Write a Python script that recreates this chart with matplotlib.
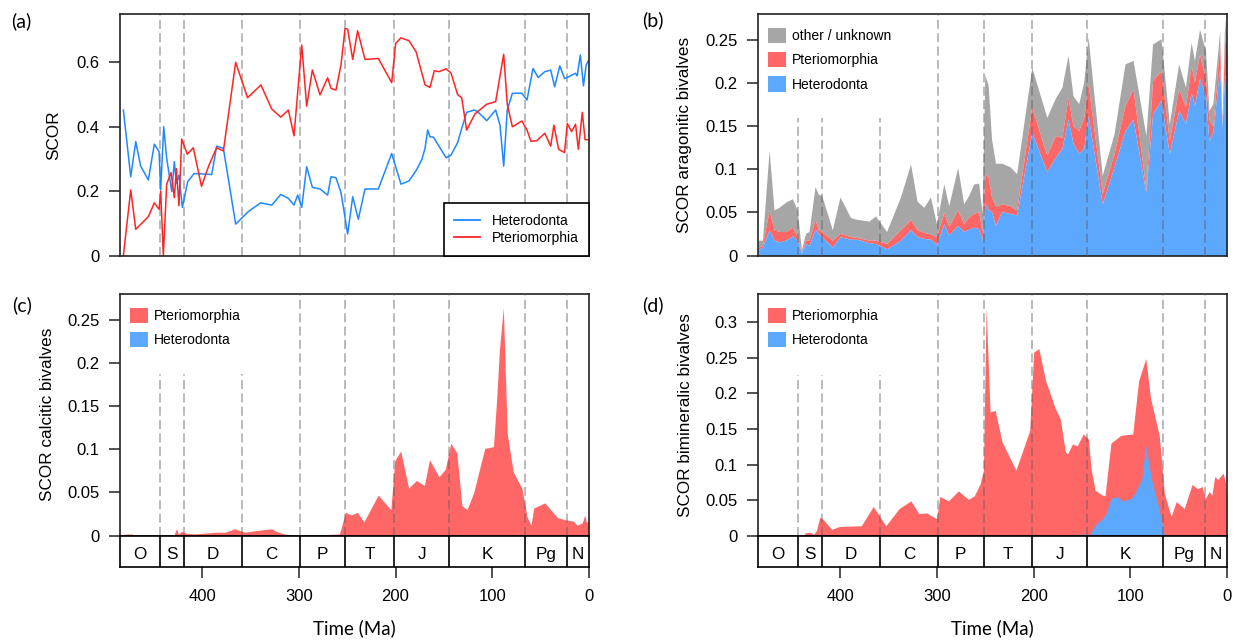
import numpy as np
import matplotlib
matplotlib.use("Agg")
import matplotlib.pyplot as plt
from matplotlib.patches import Patch
from matplotlib.lines import Line2D

plt.rcParams['font.family'] = ['Liberation Sans', 'DejaVu Sans']

# ---------------- data ----------------
period_bounds = [485.4, 443.8, 419.2, 358.9, 298.9, 251.9, 201.3, 145.0, 66.0, 23.03, 0.0]
period_labels = ['O', 'S', 'D', 'C', 'P', 'T', 'J', 'K', 'Pg', 'N']
xticks_ma = [400, 300, 200, 100, 0]

# (a) SCOR, columns: time (Ma), value
scor_het = np.array([
    [481.4, 0.452], [473.8, 0.245], [468.6, 0.354], [463.5, 0.278], [455.6, 0.235],
    [449.4, 0.346], [444.5, 0.323], [442.8, 0.204], [439.7, 0.400], [436.6, 0.302],
    [431.4, 0.199], [428.7, 0.292], [426.6, 0.224], [423.9, 0.250], [420.4, 0.150],
    [414.9, 0.230], [408.3, 0.255], [390.1, 0.252], [384.9, 0.340], [378.0, 0.333],
    [365.3, 0.098], [352.2, 0.137], [339.4, 0.164], [328.0, 0.157], [318.7, 0.190],
    [310.8, 0.178], [305.0, 0.157], [301.2, 0.188], [297.0, 0.150], [291.9, 0.276],
    [286.0, 0.212], [278.1, 0.207], [270.2, 0.188], [266.7, 0.245], [261.6, 0.242],
    [256.4, 0.196], [249.5, 0.067], [244.3, 0.183], [238.5, 0.113], [231.6, 0.207],
    [217.8, 0.207], [204.0, 0.317], [194.4, 0.222], [186.1, 0.232], [178.8, 0.264],
    [173.0, 0.297], [169.5, 0.333], [166.8, 0.390], [164.4, 0.369], [160.9, 0.368],
    [147.8, 0.304], [142.7, 0.312], [135.8, 0.351], [131.6, 0.395], [126.5, 0.445],
    [118.5, 0.452], [115.1, 0.447], [105.8, 0.419], [96.5, 0.452], [92.0, 0.405],
    [88.2, 0.278], [84.5, 0.452], [79.2, 0.504], [69.4, 0.504], [64.1, 0.483],
    [57.9, 0.581], [52.6, 0.553], [45.7, 0.571], [39.6, 0.576], [35.5, 0.524],
    [30.2, 0.589], [25.3, 0.550], [21.2, 0.555], [13.9, 0.566], [12.2, 0.558],
    [9.0, 0.623], [5.7, 0.527], [2.9, 0.592], [0.8, 0.604]])

scor_pter = np.array([
    [481.4, 0.000], [473.8, 0.204], [468.6, 0.082], [455.6, 0.121], [449.4, 0.164],
    [444.5, 0.144], [442.8, 0.200], [440.1, 0.000], [436.6, 0.222], [432.1, 0.258],
    [428.7, 0.180], [426.6, 0.270], [423.9, 0.155], [421.1, 0.362], [415.3, 0.315],
    [409.1, 0.335], [400.6, 0.215], [393.0, 0.280], [385.0, 0.335], [378.0, 0.325],
    [365.3, 0.600], [353.0, 0.490], [339.2, 0.530], [328.0, 0.455], [318.7, 0.430],
    [310.8, 0.452], [305.0, 0.372], [297.0, 0.654], [291.9, 0.464], [286.0, 0.576],
    [278.1, 0.499], [270.2, 0.552], [266.7, 0.519], [261.6, 0.514], [256.4, 0.592],
    [252.2, 0.705], [249.5, 0.703], [244.3, 0.609], [239.2, 0.698], [231.6, 0.609],
    [217.8, 0.612], [204.0, 0.537], [199.9, 0.659], [194.4, 0.676], [186.1, 0.667],
    [178.8, 0.633], [169.5, 0.530], [164.4, 0.522], [159.9, 0.574], [155.1, 0.571],
    [147.8, 0.580], [142.7, 0.567], [135.8, 0.500], [131.6, 0.490], [126.5, 0.390],
    [117.9, 0.440], [105.8, 0.470], [96.5, 0.478], [88.2, 0.625], [84.5, 0.470],
    [79.2, 0.400], [69.4, 0.418], [64.1, 0.390], [60.0, 0.355], [53.9, 0.357],
    [45.7, 0.380], [39.6, 0.340], [36.3, 0.405], [31.4, 0.330], [25.3, 0.320],
    [22.4, 0.410], [18.0, 0.385], [13.9, 0.408], [11.0, 0.330], [6.9, 0.445],
    [4.1, 0.360], [0.8, 0.360]])

# (b) aragonitic bivalves, columns: time, Heterodonta, Pteriomorphia, other/unknown
arag = np.array([
    [485.1, .007, .003, .008], [480.6, .010, .002, .006], [473.7, .030, .023, .069],
    [468.6, .018, .012, .023], [463.4, .016, .012, .028], [456.5, .018, .010, .034],
    [449.7, .023, .010, .033], [444.5, .018, .004, .031], [440.4, .003, .001, .003],
    [435.9, .014, .004, .008], [432.4, .012, .006, .010], [426.2, .031, .011, .038],
    [422.8, .026, .004, .041], [419.4, .022, .006, .042], [408.3, .010, .008, .012],
    [400.4, .022, .004, .042], [389.4, .019, .003, .022], [382.5, .019, .002, .021],
    [370.5, .015, .003, .022], [363.6, .014, .004, .028], [352.2, .008, .006, .014],
    [337.8, .018, .012, .038], [327.4, .030, .012, .064], [320.6, .022, .008, .033],
    [313.7, .020, .007, .029], [306.8, .019, .006, .043], [300.6, .013, .009, .015],
    [293.0, .037, .013, .033], [287.9, .024, .010, .024], [278.6, .035, .018, .049],
    [272.4, .028, .009, .023], [267.2, .031, .014, .025], [262.0, .033, .016, .034],
    [256.9, .031, .020, .033], [253.4, .018, .010, .021], [250.5, .062, .033, .115],
    [247.1, .053, .038, .106], [243.6, .051, .017, .067], [239.5, .035, .022, .050],
    [233.2, .051, .009, .047], [224.6, .049, .009, .045], [217.6, .047, .006, .042],
    [202.0, .143, .029, .046], [186.4, .097, .019, .044], [177.7, .114, .025, .043],
    [170.8, .124, .013, .058], [164.5, .158, .025, .049], [159.3, .130, .020, .035],
    [153.4, .118, .027, .031], [148.2, .125, .035, .041], [143.7, .162, .037, .054],
    [129.1, .060, .012, .021], [116.9, .103, .015, .023], [105.5, .145, .029, .048],
    [97.2, .158, .035, .033], [83.9, .073, .004, .062], [77.0, .164, .039, .042],
    [68.3, .180, .034, .037], [59.7, .118, .015, .020], [50.0, .168, .025, .029],
    [43.0, .153, .019, .023], [37.1, .189, .031, .027], [33.7, .174, .027, .025],
    [28.4, .205, .028, .029], [22.2, .185, .020, .032], [18.7, .133, .024, .011],
    [14.6, .143, .007, .026], [7.6, .218, .027, .015], [5.2, .149, .001, .002],
    [2.4, .210, .045, .019], [0.0, .195, .030, .005]])

# (c) calcitic bivalves, columns: time, value
calc_pter = np.array([
    [485.0, 0.001], [476.3, 0.002], [472.2, 0.002], [470.2, 0.000], [429.4, 0.000],
    [426.5, 0.008], [424.5, 0.002], [421.2, 0.005], [417.1, 0.003], [409.0, 0.002],
    [396.7, 0.003], [386.5, 0.004], [376.3, 0.004], [366.1, 0.008], [355.9, 0.004],
    [343.7, 0.006], [328.2, 0.008], [323.3, 0.005], [315.1, 0.002], [298.8, 0.000],
    [258.0, 0.002], [251.8, 0.027], [245.7, 0.024], [239.6, 0.027], [232.7, 0.016],
    [218.0, 0.047], [204.9, 0.030], [200.8, 0.087], [194.7, 0.098], [186.5, 0.055],
    [178.4, 0.064], [170.2, 0.058], [164.9, 0.088], [160.0, 0.078], [155.1, 0.068],
    [148.6, 0.077], [142.9, 0.107], [136.7, 0.096], [131.4, 0.035], [126.1, 0.030],
    [119.2, 0.050], [107.8, 0.101], [98.8, 0.103], [95.5, 0.157], [92.7, 0.214],
    [88.6, 0.264], [84.5, 0.118], [78.4, 0.074], [69.4, 0.055], [64.1, 0.022],
    [60.0, 0.012], [57.1, 0.032], [45.7, 0.038], [32.7, 0.021], [23.3, 0.018],
    [16.3, 0.017], [12.2, 0.012], [6.9, 0.015], [4.5, 0.024], [2.9, 0.016],
    [0.0, 0.016]])
calc_het = np.array([[485.0, 0.0], [165.0, 0.0], [160.0, 0.0015], [155.0, 0.0], [0.0, 0.0]])

# (d) bimineralic bivalves, columns: time, value
bimin_pter = np.array([
    [485.4, 0.000], [438.0, 0.000], [436.5, 0.004], [431.6, 0.005], [427.5, 0.002],
    [424.6, 0.008], [421.3, 0.026], [417.2, 0.022], [409.0, 0.009], [400.8, 0.013],
    [378.3, 0.014], [366.0, 0.041], [352.9, 0.014], [339.3, 0.038], [327.0, 0.049],
    [318.9, 0.031], [310.7, 0.032], [304.5, 0.027], [300.4, 0.024], [297.1, 0.055],
    [288.1, 0.049], [277.9, 0.063], [267.6, 0.051], [261.5, 0.056], [255.3, 0.073],
    [252.0, 0.092], [249.2, 0.321], [245.1, 0.174], [239.8, 0.176], [232.8, 0.132],
    [218.4, 0.092], [204.1, 0.148], [200.0, 0.258], [194.7, 0.263], [187.7, 0.218],
    [178.3, 0.181], [172.5, 0.164], [167.2, 0.118], [165.0, 0.115], [159.8, 0.129],
    [154.9, 0.126], [148.8, 0.143], [143.4, 0.136], [140.6, 0.094], [136.5, 0.064],
    [129.1, 0.057], [126.2, 0.056], [120.1, 0.130], [109.8, 0.141], [97.5, 0.143],
    [91.4, 0.218], [84.0, 0.249], [79.1, 0.193], [70.1, 0.141], [64.8, 0.059],
    [57.8, 0.027], [52.5, 0.048], [44.3, 0.038], [36.1, 0.072], [30.7, 0.066],
    [25.8, 0.069], [22.5, 0.052], [18.4, 0.062], [15.6, 0.057], [12.7, 0.083],
    [9.4, 0.079], [4.1, 0.088], [1.2, 0.073], [0.0, 0.057]])
bimin_het = np.array([
    [485.4, 0.0], [240.0, 0.0], [232.0, 0.001], [228.0, 0.0], [175.0, 0.0],
    [170.0, 0.001], [165.0, 0.001], [160.0, 0.0015], [152.0, 0.002], [147.0, 0.0025],
    [143.5, 0.001], [142.6, 0.0], [136.5, 0.015], [130.3, 0.022], [125.0, 0.031],
    [120.1, 0.052], [113.9, 0.055], [107.8, 0.049], [99.6, 0.052], [95.5, 0.059],
    [88.1, 0.080], [84.0, 0.127], [78.3, 0.080], [70.9, 0.041], [64.8, 0.001],
    [63.5, 0.0], [0.0, 0.0]])

# ---------------- style ----------------
LINE_BLUE = '#1E88FF'
LINE_RED = '#FF2424'
FILL_RED = '#FF6666'
FILL_BLUE = '#5CA8FF'
FILL_GRAY = '#A6A6A6'
BOX = '#222222'

W, H = 1243, 644
fig = plt.figure(figsize=(W / 100, H / 100), dpi=100)


def rect(l, t, r, b):
    return [l / W, 1 - b / H, (r - l) / W, (b - t) / H]


def style_axes(ax, ylim, yticks, ylabels, ylabel, lab_dx):
    ax.set_xlim(485.4, 0)
    ax.set_ylim(*ylim)
    ax.set_xticks([])
    ax.set_yticks(yticks)
    ax.set_yticklabels(ylabels)
    ax.tick_params(axis='y', direction='out', length=7.9, width=1.1, pad=6.5,
                   labelsize=12, color=BOX)
    for s in ax.spines.values():
        s.set_color(BOX)
        s.set_linewidth(1.2)
    ax.set_ylabel(ylabel, fontsize=12.3, va='center')
    ax.yaxis.set_label_coords(lab_dx, 0.5)


def period_lines(ax, short_frac=None, z=1):
    for i, b in enumerate(period_bounds[1:-1]):
        top = short_frac if (short_frac is not None and i < 3) else 1.0
        ax.axvline(b, ymin=0, ymax=top, color='#5A5A5A', alpha=0.45, lw=1.3,
                   dashes=(5, 2.4), zorder=z)


def timescale(ax):
    ax.set_xlim(485.4, 0)
    ax.set_ylim(0, 1)
    for b in period_bounds[1:-1]:
        ax.axvline(b, color='black', lw=1.2)
    for i, lab in enumerate(period_labels):
        mid = (period_bounds[i] + period_bounds[i + 1]) / 2
        ax.text(mid, 0.25, lab, ha='center', va='baseline', fontsize=12.3)
    ax.set_yticks([])
    ax.set_xticks(xticks_ma)
    ax.set_xticklabels([str(v) for v in xticks_ma])
    ax.tick_params(axis='x', direction='out', length=7.9, width=1.1, pad=8.0,
                   labelsize=12, color=BOX)
    for s in ax.spines.values():
        s.set_color('black')
        s.set_linewidth(1.2)
    ax.set_xlabel('Time (Ma)', fontsize=13.5, family=['Lato', 'DejaVu Sans'], va='center')
    ax.xaxis.set_label_coords(0.5, (567.3 - 628) / 31.6)


def patch_legend(ax, names, colors, x, y):
    handles = [Patch(facecolor=c, edgecolor='none') for c in colors]
    ax.legend(handles, names, loc='upper left', bbox_to_anchor=(x, y),
              frameon=False, fontsize=10, borderpad=0, borderaxespad=0,
              handlelength=1.3, handleheight=1.3, handletextpad=0.45,
              labelspacing=0.65)


# ---------------- (a) ----------------
ax_a = fig.add_axes(rect(119.5, 14, 589, 255.7))
style_axes(ax_a, (0, 0.75), [0, 0.2, 0.4, 0.6], ['0', '0.2', '0.4', '0.6'],
           'SCOR', -65.5 / 469.5)
period_lines(ax_a, z=1)
ax_a.plot(scor_het[:, 0], scor_het[:, 1], color=LINE_BLUE, lw=1.1, zorder=2)
ax_a.plot(scor_pter[:, 0], scor_pter[:, 1], color=LINE_RED, lw=1.1, zorder=2)
leg = ax_a.legend([Line2D([], [], color=LINE_BLUE, lw=1.3),
                   Line2D([], [], color=LINE_RED, lw=1.3)],
                  ['Heterodonta', 'Pteriomorphia'], loc='lower right',
                  bbox_to_anchor=(1, 0), borderaxespad=0, fontsize=10,
                  fancybox=False, framealpha=1, edgecolor='black',
                  handlelength=1.85, handletextpad=0.85, borderpad=0.75,
                  labelspacing=0.25)
leg.get_frame().set_linewidth(1.2)
leg.set_zorder(5)

# ---------------- (b) ----------------
ax_b = fig.add_axes(rect(757.8, 13.7, 1227, 255.7))
style_axes(ax_b, (0, 0.28), [0, 0.05, 0.1, 0.15, 0.2, 0.25],
           ['0', '0.05', '0.1', '0.15', '0.2', '0.25'],
           'SCOR aragonitic bivalves', -72.8 / 469.2)
t_b = arag[:, 0]
top_het = arag[:, 1]
top_pter = top_het + arag[:, 2]
top_other = top_pter + arag[:, 3]
ax_b.fill_between(t_b, top_pter, top_other, color=FILL_GRAY, lw=0, zorder=2)
ax_b.fill_between(t_b, top_het, top_pter, color=FILL_RED, lw=0, zorder=2)
ax_b.fill_between(t_b, 0, top_het, color=FILL_BLUE, lw=0, zorder=2)
period_lines(ax_b, short_frac=0.568, z=3)
patch_legend(ax_b, ['other / unknown', 'Pteriomorphia', 'Heterodonta'],
             [FILL_GRAY, FILL_RED, FILL_BLUE], (768 - 757.8) / 469.2,
             1 - (28 - 13.7) / 242)

# ---------------- (c) ----------------
ax_c = fig.add_axes(rect(119.5, 293.7, 589, 535.7))
style_axes(ax_c, (0, 0.28), [0, 0.05, 0.1, 0.15, 0.2, 0.25],
           ['0', '0.05', '0.1', '0.15', '0.2', '0.25'],
           'SCOR calcitic bivalves', -71.5 / 469.5)
ax_c.fill_between(calc_pter[:, 0], 0, calc_pter[:, 1], color=FILL_RED, lw=0, zorder=2)
ax_c.fill_between(calc_het[:, 0], 0, calc_het[:, 1], color=FILL_BLUE, lw=0, zorder=2)
period_lines(ax_c, short_frac=0.667, z=3)
patch_legend(ax_c, ['Pteriomorphia', 'Heterodonta'], [FILL_RED, FILL_BLUE],
             (129.6 - 119.5) / 469.5, 1 - (308 - 293.7) / 242)
ts_c = fig.add_axes(rect(119.5, 535.7, 589, 567.3))
timescale(ts_c)

# ---------------- (d) ----------------
ax_d = fig.add_axes(rect(757.8, 293.7, 1227, 535.7))
style_axes(ax_d, (0, 0.34), [0, 0.05, 0.1, 0.15, 0.2, 0.25, 0.3],
           ['0', '0.05', '0.1', '0.15', '0.2', '0.25', '0.3'],
           'SCOR bimineralic bivalves', -71.8 / 469.2)
ax_d.fill_between(bimin_pter[:, 0], 0, bimin_pter[:, 1], color=FILL_RED, lw=0, zorder=2)
ax_d.fill_between(bimin_het[:, 0], 0, bimin_het[:, 1], color=FILL_BLUE, lw=0, zorder=2)
period_lines(ax_d, short_frac=0.665, z=3)
patch_legend(ax_d, ['Pteriomorphia', 'Heterodonta'], [FILL_RED, FILL_BLUE],
             (768 - 757.8) / 469.2, 1 - (308 - 293.7) / 242)
ts_d = fig.add_axes(rect(757.8, 535.7, 1227, 567.3))
timescale(ts_d)

# ---------------- panel letters ----------------
for txt, x, y in [('(a)', 21, 21), ('(b)', 652.5, 20), ('(c)', 21.7, 305), ('(d)', 652.5, 305)]:
    fig.text(x / W, 1 - y / H, txt, ha='center', va='center', fontsize=14,
             family=['Lato', 'DejaVu Sans'])

fig.savefig('out.png', dpi=100)
